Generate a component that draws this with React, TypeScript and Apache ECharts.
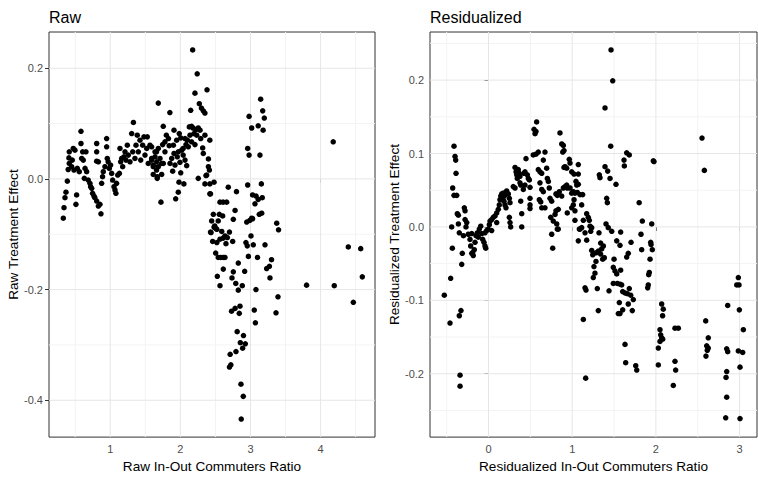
import React, { useEffect, useRef } from "react";
import * as echarts from "echarts";

// Raw panel: [Raw In-Out Commuters Ratio, Raw Treatment Effect]
const rawPoints: number[][] = [
  [0.33,-0.071],[0.34,-0.052],[0.354,-0.034],[0.368,-0.024],[0.387,-0.004],[0.40,0.017],[0.415,0.028],[0.41,0.038],
  [0.415,0.049],[0.449,0.022],[0.458,0.034],[0.472,0.055],[0.496,0.052],[0.482,0.016],[0.51,-0.046],[0.52,-0.029],
  [0.53,0.019],[0.558,0.013],[0.582,0.086],[0.582,0.064],[0.592,0.037],[0.606,0.049],[0.615,0.034],[0.63,0.001],
  [0.653,0.049],[0.64,0.019],[0.663,0.013],[0.686,-0.002],[0.71,-0.008],[0.72,-0.014],[0.735,-0.017],[0.748,-0.026],
  [0.767,-0.031],[0.78,-0.034],[0.806,-0.040],[0.83,-0.049],[0.853,-0.046],[0.867,-0.063],[0.806,0.064],[0.806,0.049],
  [0.806,0.032],[0.83,0.031],[0.877,-0.008],[0.89,0.004],[0.90,0.013],[0.924,0.022],[0.948,0.073],[0.948,0.058],
  [0.957,0.037],[0.97,0.031],[0.986,0.019],[1.005,0.025],[1.02,0.010],[1.034,-0.002],[1.053,-0.014],[1.067,-0.020],
  [1.08,-0.026],[1.09,-0.008],[1.106,0.007],[1.13,0.010],[1.138,0.055],[1.148,0.031],[1.163,0.037],[1.177,0.022],
  [1.195,0.040],[1.21,0.049],[1.224,0.034],[1.243,0.061],[1.257,0.043],[1.281,0.031],[1.305,0.082],[1.33,0.102],
  [1.32,0.049],[1.352,0.037],[1.367,0.061],[1.385,0.079],[1.40,0.049],[1.424,0.070],[1.434,0.034],[1.462,0.061],
  [1.48,0.076],[1.495,0.043],[1.52,0.055],[1.528,0.076],[1.542,0.028],[1.566,0.061],[1.59,0.037],[1.613,0.022],
  [1.638,0.049],[1.662,0.031],[1.67,0.004],
  [2.175,0.233],[2.24,0.190],[2.208,0.155],[2.38,0.161],[1.685,0.137],[1.85,0.120],[2.147,0.124],[2.27,0.136],
  [2.30,0.128],[2.327,0.123],[2.35,0.119],[1.756,0.095],[1.909,0.088],[1.80,0.079],[1.83,0.073],[1.78,0.067],
  [1.984,0.082],[2.005,0.074],[1.947,0.070],[1.90,0.061],[1.84,0.060],[1.747,0.062],[1.685,0.055],[1.59,0.058],
  [1.66,0.049],[1.78,0.049],[2.066,0.073],[2.10,0.070],[2.127,0.094],[2.16,0.095],[2.18,0.092],[2.222,0.089],
  [2.255,0.092],[2.28,0.088],[2.194,0.082],[2.137,0.079],[2.233,0.079],[2.29,0.073],[2.35,0.079],[2.42,0.070],
  [2.16,0.067],[2.208,0.062],[2.113,0.058],[2.04,0.055],[2.08,0.062],[2.318,0.056],[2.327,0.046],[1.97,0.049],
  [2.018,0.052],[1.909,0.046],[1.876,0.037],[1.956,0.040],[2.04,0.043],[2.066,0.034],[1.994,0.030],[1.923,0.025],
  [1.852,0.028],[1.756,0.028],[1.709,0.037],[1.638,0.040],[1.59,0.034],[1.613,0.025],[1.685,0.022],[1.733,0.028],
  [1.66,0.016],[1.613,0.008],[1.67,0.001],[1.733,0.008],[1.89,0.014],[2.005,0.011],[2.09,0.024],[2.40,0.036],
  [2.40,0.022],[2.414,0.016],[2.375,0.007],[2.255,0.001],[1.98,-0.006],[2.05,-0.009],[2.35,-0.009],[2.42,-0.009],
  [2.48,-0.006],[1.97,-0.024],[2.42,-0.027],[1.933,-0.036],[1.723,-0.042],[2.683,-0.015],[2.80,-0.023],[2.565,-0.042],
  [2.61,-0.042],[2.66,-0.042],[2.78,-0.057],[2.47,-0.064],[2.555,-0.064],[2.603,-0.067],[2.446,-0.076],[2.54,-0.076],
  [2.755,-0.073],[2.49,-0.085],[2.946,-0.078],[2.96,0.055],[2.98,0.043],[2.98,0.113],[2.96,-0.011],
  [3.145,0.144],[3.174,0.123],[3.197,0.110],[3.017,0.092],[3.11,0.096],[3.18,0.088],[3.135,0.043],[4.18,0.067],
  [3.155,-0.009],[3.03,-0.029],[3.08,-0.031],[3.11,-0.037],[3.168,-0.034],[3.064,-0.045],[3.16,-0.062],[3.125,-0.064],
  [3.017,-0.071],[2.99,-0.075],[3.374,-0.080],[3.40,-0.092],[2.43,-0.096],[2.49,-0.088],[2.52,-0.091],[2.59,-0.095],
  [2.70,-0.096],[2.636,-0.103],[2.565,-0.109],[2.61,-0.107],[2.46,-0.113],[2.52,-0.115],[2.65,-0.117],[2.746,-0.113],
  [3.007,-0.103],[2.935,-0.115],[2.954,-0.121],[3.04,-0.119],[3.207,-0.119],[4.395,-0.123],[4.572,-0.126],[2.503,-0.134],
  [2.54,-0.142],[2.61,-0.142],[2.97,-0.140],[3.10,-0.142],[2.826,-0.152],[3.30,-0.146],[3.27,-0.158],
  [3.23,-0.162],[3.278,-0.179],[2.917,-0.167],[2.755,-0.168],[2.736,-0.179],[2.527,-0.176],[2.612,-0.163],[2.79,-0.189],
  [2.883,-0.193],[2.826,-0.201],[2.565,-0.193],[3.078,-0.200],[3.392,-0.213],[3.80,-0.192],[4.195,-0.193],[2.85,-0.230],
  [2.78,-0.234],[2.73,-0.239],[2.84,-0.243],[3.054,-0.237],[3.364,-0.242],[3.07,-0.260],[2.81,-0.276],[2.90,-0.283],
  [2.855,-0.296],[2.926,-0.298],[2.888,-0.306],[2.793,-0.312],[2.71,-0.317],[2.72,-0.336],[2.70,-0.340],[2.864,-0.371],
  [2.897,-0.393],[2.868,-0.434],[4.595,-0.177],[4.467,-0.223],[2.365,0.006],[2.43,-0.027],[3.03,-0.072],[2.48,-0.087],
  [2.51,-0.090],[2.437,-0.097],[2.67,-0.106],[2.575,-0.142],[2.636,-0.142],
];

// Residualized panel: [Residualized In-Out Commuters Ratio, Residualized Treatment Effect]
const residPoints: number[][] = [
  [-0.528,-0.093],[-0.452,-0.070],[-0.32,-0.051],[-0.313,-0.036],[-0.432,-0.029],[-0.412,0.110],[-0.40,0.096],[-0.392,0.091],
  [-0.388,0.073],[-0.428,0.053],[-0.412,0.043],[-0.38,0.043],[-0.44,0.000],[-0.373,0.018],[-0.36,0.016],[-0.36,0.004],
  [-0.349,-0.008],[-0.30,-0.012],[-0.289,0.026],[-0.28,0.022],[-0.28,0.010],[-0.26,0.006],[-0.269,0.000],[-0.241,-0.010],
  [-0.221,-0.017],[-0.20,-0.009],[-0.213,-0.026],[-0.189,-0.035],[-0.182,-0.039],[-0.17,-0.031],[-0.161,-0.021],[-0.149,-0.012],
  [-0.134,-0.008],[-0.11,-0.003],[-0.093,0.001],[-0.122,-0.014],[-0.081,-0.009],[-0.069,-0.017],[-0.054,-0.021],[-0.042,-0.026],
  [-0.033,-0.029],[-0.042,-0.008],[-0.022,-0.005],[-0.002,-0.003],[0.01,0.003],[0.018,0.008],[0.038,0.010],[0.057,0.013],
  [0.038,-0.005],[0.078,0.015],[0.098,0.019],[0.117,0.024],[0.098,0.006],[0.129,0.030],[0.137,0.037],[0.146,0.042],
  [0.158,0.045],[0.17,0.039],[0.185,0.035],[0.197,0.030],[0.177,0.046],[0.197,0.043],[0.217,0.049],[0.237,0.045],
  [0.249,0.039],[0.257,0.033],[0.249,0.013],[0.257,0.006],[0.265,0.000],[0.209,0.026],[0.296,0.055],[0.317,0.053],
  [0.317,0.081],[0.329,0.075],[0.337,0.071],[0.344,0.066],[0.356,0.078],[0.368,0.073],[0.376,0.069],[0.376,0.060],
  [0.385,0.057],[0.385,0.035],[0.397,0.018],[0.397,0.000],[0.416,0.051],[0.436,0.057],[0.424,0.073],[0.436,0.075],
  [0.448,0.093],[0.464,0.071],[0.476,0.066],[0.488,0.064],[0.496,0.039],[0.496,0.030],[0.496,0.025],[0.496,0.054],
  [0.535,0.098],[0.567,0.099],[0.595,0.102],[0.556,0.127],[0.567,0.130],[0.575,0.143],[0.544,0.133],[0.595,0.078],
  [0.615,0.075],[0.636,0.073],[0.615,0.060],[0.636,0.051],[0.655,0.048],[0.607,0.037],[0.624,0.034],[0.636,0.026],
  [0.675,0.026],[0.655,0.091],[0.675,0.102],[0.695,0.080],[0.703,0.066],[0.715,0.062],[0.726,0.053],[0.735,0.039],
  [0.755,0.035],[0.743,0.013],[0.774,0.008],[0.795,0.017],[0.815,0.004],[0.755,-0.010],[0.767,-0.029],[0.806,0.045],
  [0.822,0.043],[0.846,0.048],[0.806,0.022],[0.834,0.024],[0.834,-0.003],[0.854,0.128],[0.875,0.042],[0.894,0.053],
  [0.875,0.113],[0.894,0.111],[0.902,0.104],[0.887,0.102],[0.902,0.081],[0.914,0.082],[0.934,0.080],[0.914,0.055],
  [0.934,0.057],[0.941,0.053],[0.941,0.019],[0.965,0.092],[0.974,0.087],[0.994,0.075],[0.974,0.053],[0.994,0.046],
  [1.013,0.048],[0.994,0.026],[1.013,0.030],[1.033,0.009],[1.045,0.062],[1.054,0.057],[1.073,0.085],[1.073,0.072],
  [1.073,-0.019],[1.085,-0.003],
  [1.46,0.110],[1.619,0.091],[1.623,0.083],[1.651,0.101],[1.682,0.098],[1.969,0.090],[1.977,0.089],[1.392,0.082],
  [1.424,0.076],[1.452,0.066],[1.324,0.071],[1.332,0.067],[1.523,0.058],[1.412,0.039],[1.42,0.033],[1.80,0.033],
  [1.022,0.072],[1.073,0.058],[1.033,0.046],[1.061,0.047],[1.093,0.044],[1.125,0.044],[1.022,0.037],[1.033,0.022],
  [1.113,0.030],[1.133,0.009],[1.173,0.018],[1.192,0.013],[1.204,0.009],[1.113,-0.001],[1.093,-0.003],[1.153,-0.008],
  [1.213,0.001],[1.233,-0.001],[1.221,-0.006],[1.173,-0.018],[1.32,-0.008],[1.404,0.004],[1.431,-0.001],[1.472,-0.006],
  [1.579,-0.007],[1.532,-0.019],[1.571,-0.025],[1.703,-0.021],[1.822,-0.010],[1.838,0.008],[1.95,0.004],[1.938,-0.021],
  [1.942,-0.024],[1.957,-0.031],[1.83,-0.031],[1.93,-0.044],[1.921,-0.062],[1.914,-0.065],[1.909,-0.079],[1.902,-0.083],
  [1.34,-0.022],[1.372,-0.026],[1.352,-0.030],[1.233,-0.032],[1.26,-0.036],[1.293,-0.035],[1.312,-0.033],[1.245,-0.038],
  [1.34,-0.037],[1.364,-0.044],[1.384,-0.042],[1.284,-0.047],[1.50,-0.044],[1.651,-0.041],[1.67,-0.036],[1.491,-0.055],
  [1.511,-0.060],[1.532,-0.064],[1.579,-0.059],[1.26,-0.054],[1.272,-0.063],[1.252,-0.069],[1.491,-0.077],[1.539,-0.077],
  [1.571,-0.078],[1.591,-0.079],[1.603,-0.088],[1.631,-0.090],[1.658,-0.091],[1.682,-0.084],[1.699,-0.093],[1.73,-0.099],
  [1.153,-0.083],[1.165,-0.086],[1.30,-0.084],[1.44,-0.087],[1.563,-0.103],[1.67,-0.105],[1.603,-0.113],[1.551,-0.118],
  [1.571,-0.118],[1.718,-0.114],[1.312,-0.114],[1.133,-0.126],[2.069,-0.105],[2.088,-0.112],[2.08,-0.121],
  [-0.46,-0.131],[-0.349,-0.121],[-0.329,-0.114],[-0.34,-0.202],[-0.34,-0.217],[0.822,-0.003],[1.161,-0.206],[1.631,-0.160],
  [1.639,-0.185],[1.759,-0.189],[1.771,-0.195],[2.029,-0.188],[2.029,-0.165],[2.049,-0.140],[2.057,-0.147],[2.069,-0.151],
  [2.081,-0.153],[2.049,-0.156],[2.228,-0.138],[2.268,-0.138],[2.228,-0.183],[2.236,-0.195],[2.208,-0.216],[2.595,-0.128],
  [2.626,-0.151],[2.607,-0.162],[2.626,-0.165],[2.614,-0.168],[2.598,-0.176],[2.858,-0.107],[2.846,-0.166],[2.858,-0.170],
  [2.846,-0.197],[2.838,-0.205],[2.846,-0.232],[2.834,-0.260],[2.985,-0.069],[2.966,-0.079],[2.993,-0.079],[2.997,-0.113],
  [3.045,-0.140],[2.985,-0.169],[3.037,-0.171],[3.005,-0.191],[3.005,-0.261],[1.464,0.241],[1.484,0.199],[1.392,0.162],
  [2.551,0.121],[2.579,0.077],[-0.2,-0.036],
];

const rawXTicks = [1, 2, 3, 4];
const rawYTicks = [-0.4, -0.2, 0.0, 0.2];
const rawXMinor = [0.5, 1.5, 2.5, 3.5, 4.5];
const rawYMinor = [-0.3, -0.1, 0.1];
const resXTicks = [0, 1, 2, 3];
const resYTicks = [-0.2, -0.1, 0.0, 0.1, 0.2];
const resXMinor = [-0.5, 0.5, 1.5, 2.5];
const resYMinor = [-0.25, -0.15, -0.05, 0.05, 0.15, 0.25];

const rawRange = { xMin: 0.126, xMax: 4.776, yMin: -0.4666, yMax: 0.2655 };
const resRange = { xMin: -0.699, xMax: 3.208, yMin: -0.2863, yMax: 0.2655 };

const FONT = "'Liberation Sans', Arial, sans-serif";

// Grid lines drawn as plain line series (under the points)
function gridLines(
  xIdx: number, yIdx: number,
  range: { xMin: number; xMax: number; yMin: number; yMax: number },
  xMaj: number[], yMaj: number[], xMin: number[], yMin: number[]
) {
  const out: any[] = [];
  const add = (v: number, vertical: boolean, color: string) => {
    out.push({
      type: "line",
      xAxisIndex: xIdx,
      yAxisIndex: yIdx,
      z: 1,
      silent: true,
      symbol: "none",
      lineStyle: { color, width: 1 },
      data: vertical ? [[v, range.yMin], [v, range.yMax]] : [[range.xMin, v], [range.xMax, v]],
    });
  };
  xMin.forEach((v) => add(v, true, "#f3f3f3"));
  yMin.forEach((v) => add(v, false, "#f3f3f3"));
  xMaj.forEach((v) => add(v, true, "#e6e6e6"));
  yMaj.forEach((v) => add(v, false, "#e6e6e6"));
  return out;
}

function axisCommon(ticks: number[], fmt: (v: number) => string) {
  return {
    axisLine: { show: false },
    splitLine: { show: false },
    axisTick: { show: true, customValues: ticks, length: 4, lineStyle: { color: "#333", width: 1 } },
    axisLabel: {
      customValues: ticks,
      formatter: (v: number) => fmt(v),
      color: "#4d4d4d",
      fontSize: 11,
      fontFamily: FONT,
      margin: 6,
    },
    nameTextStyle: { color: "#000", fontSize: 13.6, fontFamily: FONT },
  };
}

export default function App() {
  const ref = useRef<HTMLDivElement>(null);
  useEffect(() => {
    document.body.style.margin = "0";
    if (!ref.current) return;
    const chart = echarts.init(ref.current, undefined, { renderer: "svg" });
    const intFmt = (v: number) => String(Math.round(v));
    const oneDec = (v: number) => v.toFixed(1);
    chart.setOption({
      animation: false,
      backgroundColor: "#fff",
      title: [
        { text: "Raw", left: 49, top: 9, padding: 0, textStyle: { fontSize: 16, fontWeight: "normal", color: "#000", fontFamily: FONT } },
        { text: "Residualized", left: 430, top: 9, padding: 0, textStyle: { fontSize: 16, fontWeight: "normal", color: "#000", fontFamily: FONT } },
      ],
      grid: [
        { left: 49, top: 32, width: 326, height: 410, show: true, borderColor: "#333", borderWidth: 1, backgroundColor: "transparent" },
        { left: 430, top: 32, width: 327, height: 410, show: true, borderColor: "#333", borderWidth: 1, backgroundColor: "transparent" },
      ],
      xAxis: [
        {
          type: "value", gridIndex: 0, min: rawRange.xMin, max: rawRange.xMax,
          name: "Raw In-Out Commuters Ratio", nameLocation: "middle", nameGap: 19,
          ...axisCommon(rawXTicks, intFmt),
        },
        {
          type: "value", gridIndex: 1, min: resRange.xMin, max: resRange.xMax,
          name: "Residualized In-Out Commuters Ratio", nameLocation: "middle", nameGap: 19,
          ...axisCommon(resXTicks, intFmt),
        },
      ],
      yAxis: [
        {
          type: "value", gridIndex: 0, min: rawRange.yMin, max: rawRange.yMax,
          name: "Raw Treatment Effect", nameLocation: "middle", nameGap: 29,
          ...axisCommon(rawYTicks, oneDec),
        },
        {
          type: "value", gridIndex: 1, min: resRange.yMin, max: resRange.yMax,
          name: "Residualized Treatment Effect", nameLocation: "middle", nameGap: 29,
          ...axisCommon(resYTicks, oneDec),
        },
      ],
      series: [
        ...gridLines(0, 0, rawRange, rawXTicks, rawYTicks, rawXMinor, rawYMinor),
        ...gridLines(1, 1, resRange, resXTicks, resYTicks, resXMinor, resYMinor),
        {
          type: "scatter", xAxisIndex: 0, yAxisIndex: 0, z: 3, silent: true,
          symbolSize: 5.5, itemStyle: { color: "#000", opacity: 1 }, data: rawPoints,
        },
        {
          type: "scatter", xAxisIndex: 1, yAxisIndex: 1, z: 3, silent: true,
          symbolSize: 5.5, itemStyle: { color: "#000", opacity: 1 }, data: residPoints,
        },
      ],
    });
    return () => chart.dispose();
  }, []);
  return <div ref={ref} style={{ width: 758, height: 478 }} />;
}
